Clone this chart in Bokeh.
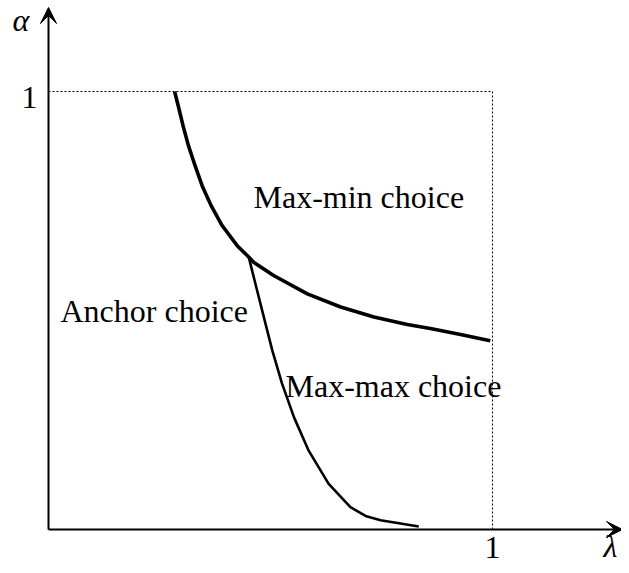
from bokeh.plotting import figure
from bokeh.models import Arrow, VeeHead
from bokeh.core.properties import value
from bokeh.embed import file_html
from bokeh.resources import INLINE

# Max-min / anchor boundary (upper curve)
upper_x = [0.284, 0.292, 0.303, 0.315, 0.330, 0.346, 0.366, 0.391, 0.425, 0.451,
           0.462, 0.507, 0.583, 0.658, 0.733, 0.808, 0.860, 0.928, 0.995]
upper_y = [1.000, 0.968, 0.922, 0.877, 0.831, 0.785, 0.740, 0.694, 0.648, 0.622,
           0.610, 0.580, 0.538, 0.508, 0.485, 0.468, 0.459, 0.445, 0.431]

# Max-max / anchor boundary (lower curve)
lower_x = [0.451, 0.466, 0.485, 0.504, 0.526, 0.553, 0.586, 0.631, 0.680, 0.714, 0.748, 0.834]
lower_y = [0.622, 0.561, 0.485, 0.409, 0.333, 0.256, 0.180, 0.104, 0.051, 0.031, 0.021, 0.007]

x_ticks = [1]
x_tick_labels = ["1"]
y_ticks = [1]
y_tick_labels = ["1"]

region_labels = ["Max-min choice", "Anchor choice", "Max-max choice"]
x_label = "λ"
y_label = "α"

FONT = value("Liberation Serif")
FS = "32px"

W, H = 621, 565
# picture px mapping: x=0 at 48, x=1 at 492 ; y=0 at 529, y=1 at 91
xs = 444.0
ys = 438.0
x0 = (0 - 48) / xs
x1 = (W - 48) / xs
y1 = (529 - 0) / ys
y0 = (529 - H) / ys

# SVG text renders ~10px below the requested baseline
TEXT_DY = 10

p = figure(width=W, height=H, x_range=(x0, x1), y_range=(y0, y1),
           output_backend="svg", toolbar_location=None, min_border=0,
           background_fill_color="white", border_fill_color="white")
p.axis.visible = False
p.grid.visible = False
p.outline_line_color = None

def px_x(px):
    return (px - 48) / xs

def px_y(py):
    return (529 - py) / ys

def tx_y(py):
    return px_y(py - TEXT_DY)

# axes with arrows
p.add_layout(Arrow(end=VeeHead(size=16, fill_color="black", line_color="black"),
                   x_start=0, y_start=0, x_end=px_x(622), y_end=0,
                   line_width=2, line_color="black"))
p.add_layout(Arrow(end=VeeHead(size=16, fill_color="black", line_color="black"),
                   x_start=0, y_start=0, x_end=0, y_end=px_y(7),
                   line_width=2, line_color="black"))

# dotted unit box
p.line([0, x_ticks[0]], [y_ticks[0], y_ticks[0]], line_color="black",
       line_width=1, line_dash="2 2")
p.line([x_ticks[0], x_ticks[0]], [0, y_ticks[0]], line_color="black",
       line_width=1, line_dash="2 2")

# curves
p.line(upper_x, upper_y, line_color="black", line_width=3.6, line_join="round")
p.line(lower_x, lower_y, line_color="black", line_width=2.6, line_join="round")

# tick labels
p.text(x=[px_x(37)], y=[tx_y(107)], text=y_tick_labels, text_font=FONT,
       text_font_size=FS, text_align="right", text_baseline="alphabetic",
       text_color="black")
p.text(x=x_ticks, y=[tx_y(557)], text=x_tick_labels, text_font=FONT,
       text_font_size=FS, text_align="center", text_baseline="alphabetic",
       text_color="black")

# axis labels
p.text(x=[px_x(12)], y=[tx_y(29)], text=[y_label], text_font=FONT,
       text_font_size=FS, text_font_style="italic", text_align="left",
       text_baseline="alphabetic", text_color="black")
p.text(x=[px_x(603)], y=[tx_y(555)], text=[x_label], text_font=FONT,
       text_font_size=FS, text_font_style="italic", text_align="left",
       text_baseline="alphabetic", text_color="black")

# region labels
p.text(x=[px_x(253), px_x(60), px_x(285)],
       y=[tx_y(206), tx_y(320), tx_y(395)],
       text=region_labels, text_font=FONT, text_font_size=FS,
       text_align="left", text_baseline="alphabetic", text_color="black")

open("out.html", "w").write(file_html(p, INLINE))
